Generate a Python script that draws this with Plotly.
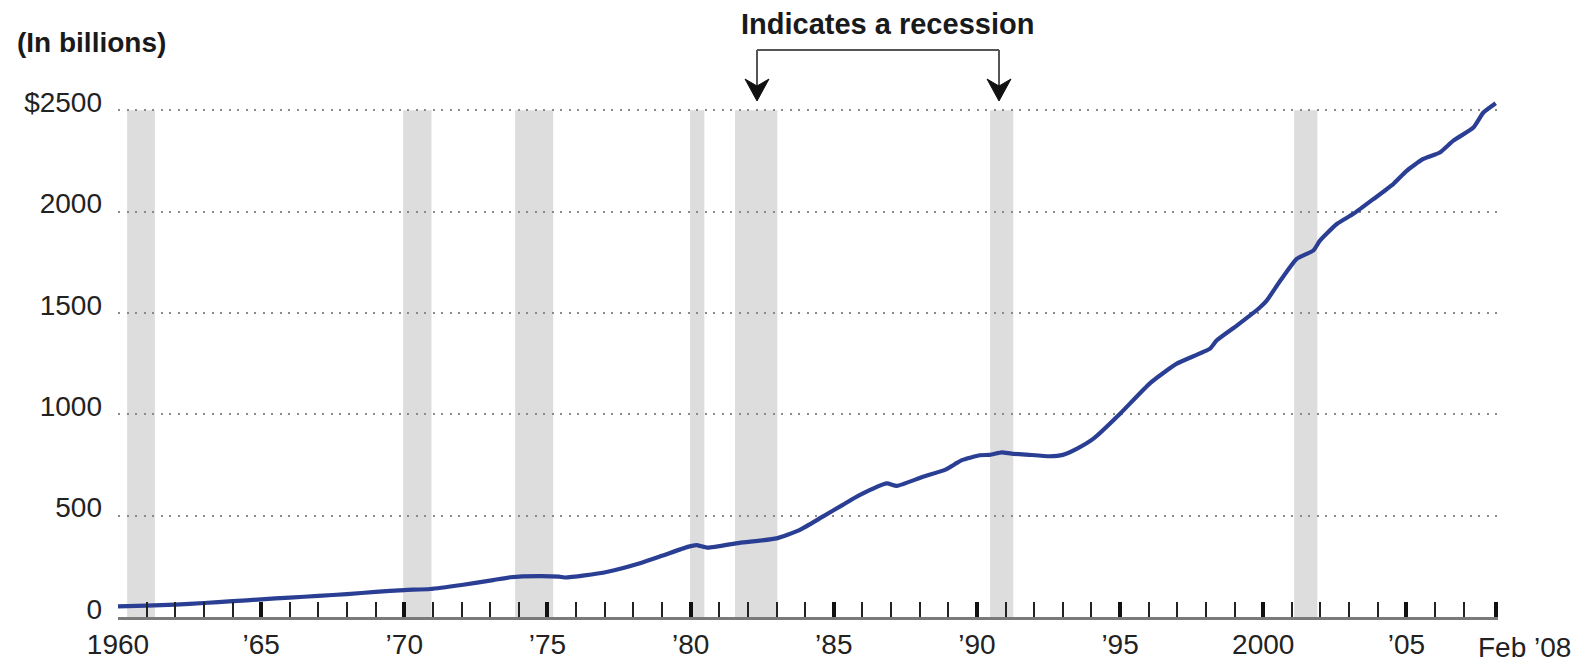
import plotly.graph_objects as go

# ---------------- data ----------------
years = [1960.0, 1961.0, 1962.0, 1963.0, 1964.0, 1965.0, 1966.0, 1967.0, 1968.0, 1969.0,
         1970.0, 1970.9, 1972.0, 1973.1, 1973.7, 1974.7, 1975.4, 1975.6, 1976.3, 1977.1,
         1978.2, 1979.0, 1979.9, 1980.2, 1980.6, 1981.7, 1983.0, 1983.8, 1984.6, 1985.3,
         1985.9, 1986.85, 1987.2, 1988.1, 1988.9, 1989.3, 1989.5, 1990.1, 1990.45, 1990.87,
         1991.2, 1991.74, 1992.55, 1993.0, 1993.5, 1994.07, 1995.0, 1996.05, 1996.98, 1998.14,
         1998.37, 1999.1, 1999.89, 2000.12, 2000.6, 2001.17, 2001.75, 2001.98, 2002.57, 2003.15,
         2003.85, 2004.54, 2005.0, 2005.59, 2006.17, 2006.64, 2007.34, 2007.69, 2008.12]
credit = [52, 56, 61, 69, 78, 87, 96, 104, 113, 124,
          133, 138, 158, 182, 196, 202, 199, 195, 205, 223,
          264, 302, 346, 355, 342, 366, 388, 429, 494, 552,
          601, 659, 647, 691, 727, 760, 775, 798, 800, 812,
          806, 801, 793, 800, 831, 880, 1003, 1154, 1250, 1324,
          1364, 1440, 1528, 1561, 1660, 1767, 1808, 1857, 1939, 1989,
          2062, 2136, 2200, 2260, 2292, 2350, 2415, 2489, 2535]

recession_start = [1960.32, 1969.96, 1973.87, 1979.98, 1981.55, 1990.46, 2001.08]
recession_end = [1961.29, 1970.95, 1975.20, 1980.48, 1983.03, 1991.27, 2001.89]

y_ticks = [0, 500, 1000, 1500, 2000, 2500]
y_tick_labels = ["0", "500", "1000", "1500", "2000", "$2500"]
x_major = [1960, 1965, 1970, 1975, 1980, 1985, 1990, 1995, 2000, 2005, 2008.12]
x_major_labels = ["1960", "\u201965", "\u201970", "\u201975", "\u201980", "\u201985",
                  "\u201990", "\u201995", "2000", "\u201905", ""]
x_minor = [y for y in range(1961, 2008) if y % 5 != 0]
end_label = "Feb \u201908"
unit_label = "(In billions)"
legend_label = "Indicates a recession"

# ---------------- layout geometry ----------------
# page body has an 8px margin, so the figure is laid out 8px up/left
OFF = 8
W, H = 1593 - OFF, 663 - OFF
L, R, T, B = 118 - OFF, 1498 - OFF, 90 - OFF, 617 - OFF
FONT = "Liberation Sans, Arial, Helvetica, sans-serif"


def px_x(p):
    """page pixel -> paper x"""
    return (p - OFF - L) / (R - L)


def px_y(p):
    """page pixel -> paper y"""
    return (B - (p - OFF)) / (B - T)


fig = go.Figure()
fig.add_trace(go.Scatter(
    x=years, y=credit, mode="lines",
    line=dict(color="#2a3e94", width=4.2, shape="spline", smoothing=0.5),
    hoverinfo="x+y", showlegend=False,
))

shapes = []
for s, e in zip(recession_start, recession_end):
    shapes.append(dict(type="rect", xref="x", yref="y", x0=s, x1=e, y0=0, y1=2500,
                       fillcolor="#dddddd", line=dict(width=0), layer="below"))

# bracket with arrows for the legend
bx1, bx2, by, btip = 757, 999, 50, 101
lc = "#555555"
shapes.append(dict(type="line", xref="paper", yref="paper",
                   x0=px_x(bx1), x1=px_x(bx2), y0=px_y(by), y1=px_y(by),
                   line=dict(color=lc, width=2)))
for bx in (bx1, bx2):
    shapes.append(dict(type="line", xref="paper", yref="paper",
                       x0=px_x(bx), x1=px_x(bx), y0=px_y(by), y1=px_y(86),
                       line=dict(color=lc, width=2)))
    path = "M {a},{b} L {c},{d} L {e},{f} L {g},{h} Z".format(
        a=px_x(bx - 12), b=px_y(79), c=px_x(bx), d=px_y(btip),
        e=px_x(bx + 12), f=px_y(79), g=px_x(bx), h=px_y(86))
    shapes.append(dict(type="path", xref="paper", yref="paper", path=path,
                       fillcolor="#111111", line=dict(color="#111111", width=1)))

annotations = [
    dict(text=unit_label, xref="paper", yref="paper", x=px_x(15), y=px_y(42),
         xanchor="left", yanchor="middle", showarrow=False,
         font=dict(family=FONT, size=28, color="#1a1a1a", weight="bold")),
    dict(text=legend_label, xref="paper", yref="paper", x=px_x(887), y=px_y(24),
         xanchor="center", yanchor="middle", showarrow=False,
         font=dict(family=FONT, size=29, color="#1a1a1a", weight="bold")),
    dict(text=end_label, xref="x", yref="paper", x=x_major[-1], y=px_y(647),
         xshift=29, xanchor="center", yanchor="middle", showarrow=False,
         font=dict(family=FONT, size=28, color="#222222")),
]

fig.update_layout(
    width=W, height=H,
    margin=dict(l=L, r=W - R, t=T, b=H - B, pad=0),
    paper_bgcolor="white", plot_bgcolor="white",
    template="none",
    shapes=shapes, annotations=annotations,
    font=dict(family=FONT, size=28, color="#222222"),
    xaxis=dict(
        range=[1960, 2008.2], automargin=False,
        tickmode="array", tickvals=x_major, ticktext=x_major_labels,
        ticks="inside", ticklen=15, tickwidth=3.5, tickcolor="#111111",
        ticklabelstandoff=0,
        minor=dict(tickmode="array", tickvals=x_minor, ticks="inside",
                   ticklen=15, tickwidth=2, tickcolor="#222222", showgrid=False),
        showgrid=False, zeroline=False,
        showline=True, linecolor="#7a7a7a", linewidth=3,
        tickfont=dict(family=FONT, size=28, color="#222222"),
    ),
    yaxis=dict(
        range=[0, 2600], automargin=False,
        tickmode="array", tickvals=y_ticks, ticktext=y_tick_labels,
        ticks="", showline=False, zeroline=False,
        showgrid=True, gridcolor="#8a8a8a", gridwidth=1.6, griddash="2px,6.5px",
        ticklabelstandoff=15, ticklabelshift=-8,
        tickfont=dict(family=FONT, size=28, color="#222222"),
    ),
)

fig.write_html("out.html")
